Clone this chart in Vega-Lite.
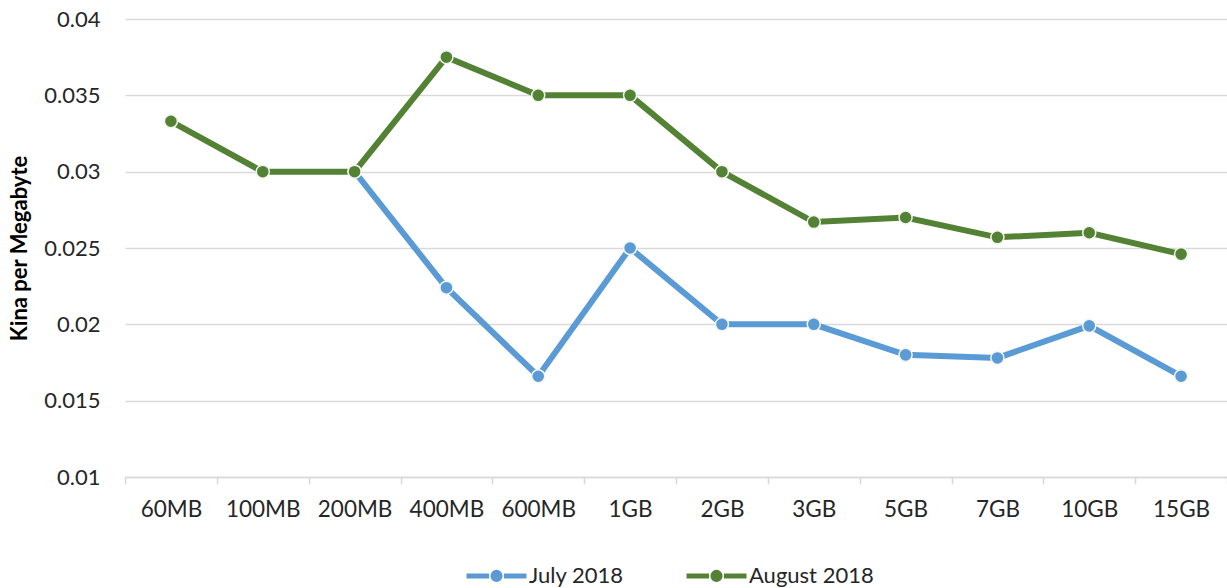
{
  "$schema": "https://vega.github.io/schema/vega-lite/v6.json",
  "width": 1102,
  "height": 458,
  "autosize": "none",
  "padding": {"left": 125, "top": 19, "right": 0, "bottom": 111},
  "background": "white",
  "config": {
    "view": {"stroke": null},
    "font": "Lato"
  },
  "data": {
    "values": [
      {"size": "200MB", "series": "July 2018", "value": 0.03},
      {"size": "400MB", "series": "July 2018", "value": 0.0224},
      {"size": "600MB", "series": "July 2018", "value": 0.0166},
      {"size": "1GB", "series": "July 2018", "value": 0.025},
      {"size": "2GB", "series": "July 2018", "value": 0.02},
      {"size": "3GB", "series": "July 2018", "value": 0.02},
      {"size": "5GB", "series": "July 2018", "value": 0.018},
      {"size": "7GB", "series": "July 2018", "value": 0.0178},
      {"size": "10GB", "series": "July 2018", "value": 0.0199},
      {"size": "15GB", "series": "July 2018", "value": 0.0166},
      {"size": "60MB", "series": "August 2018", "value": 0.0333},
      {"size": "100MB", "series": "August 2018", "value": 0.03},
      {"size": "200MB", "series": "August 2018", "value": 0.03},
      {"size": "400MB", "series": "August 2018", "value": 0.0375},
      {"size": "600MB", "series": "August 2018", "value": 0.035},
      {"size": "1GB", "series": "August 2018", "value": 0.035},
      {"size": "2GB", "series": "August 2018", "value": 0.03},
      {"size": "3GB", "series": "August 2018", "value": 0.0267},
      {"size": "5GB", "series": "August 2018", "value": 0.027},
      {"size": "7GB", "series": "August 2018", "value": 0.0257},
      {"size": "10GB", "series": "August 2018", "value": 0.026},
      {"size": "15GB", "series": "August 2018", "value": 0.0246}
    ]
  },
  "mark": {
    "type": "line",
    "strokeWidth": 6,
    "point": {"filled": true, "size": 170, "stroke": "#f2f5ee", "strokeWidth": 1.5}
  },
  "encoding": {
    "x": {
      "field": "size",
      "type": "ordinal",
      "sort": ["60MB", "100MB", "200MB", "400MB", "600MB", "1GB", "2GB", "3GB", "5GB", "7GB", "10GB", "15GB"],
      "scale": {"type": "band", "paddingInner": 0, "paddingOuter": 0},
      "axis": {
        "title": null,
        "labelAngle": 0,
        "labelFontSize": 22.5,
        "labelColor": "#262626",
        "labelPadding": 14,
        "tickBand": "extent",
        "tickSize": 7,
        "tickColor": "#d9d9d9",
        "tickWidth": 1.5,
        "domainColor": "#d9d9d9",
        "domainWidth": 1.5,
        "grid": false
      }
    },
    "y": {
      "field": "value",
      "type": "quantitative",
      "scale": {"domain": [0.01, 0.04], "nice": false, "zero": false},
      "axis": {
        "title": "Kina per Megabyte",
        "titleFontSize": 22,
        "titleFontWeight": "bold",
        "titleColor": "#000000",
        "titlePadding": 12,
        "values": [0.01, 0.015, 0.02, 0.025, 0.03, 0.035, 0.04],
        "format": ".3~f",
        "labelFontSize": 22,
        "labelColor": "#262626",
        "labelPadding": 25,
        "ticks": false,
        "domain": false,
        "gridColor": "#d9d9d9",
        "gridWidth": 1.5
      }
    },
    "color": {
      "field": "series",
      "type": "nominal",
      "sort": ["July 2018", "August 2018"],
      "scale": {"domain": ["July 2018", "August 2018"], "range": ["#5B9BD5", "#548235"]},
      "legend": {
        "title": null,
        "orient": "none",
        "direction": "horizontal",
        "legendX": 339,
        "legendY": 524,
        "labelFontSize": 22,
        "labelColor": "#262626",
        "symbolType": "M-1,0L-0.25,0M0.25,0L1,0M0.12,0A0.12,0.12,0,1,1,-0.12,0A0.12,0.12,0,1,1,0.12,0Z",
        "symbolSize": 3600,
        "symbolStrokeWidth": 5,
        "labelOffset": 0,
        "columnPadding": 52,
        "encode": {
          "symbols": {
            "update": {
              "fill": {"scale": "color", "field": "value"},
              "stroke": {"scale": "color", "field": "value"},
              "opacity": {"value": 1}
            }
          }
        }
      }
    }
  }
}
